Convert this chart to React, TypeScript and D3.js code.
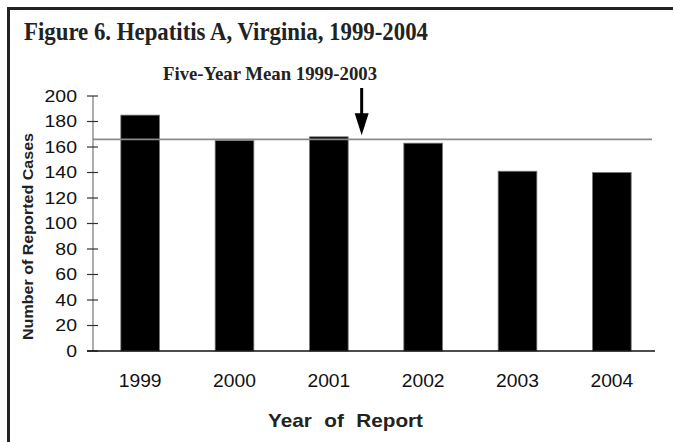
import * as d3 from 'd3'

const years = ['1999', '2000', '2001', '2002', '2003', '2004']
const cases = [185, 165, 168, 163, 141, 140]
const fiveYearMean = 166
const yTicks = [0, 20, 40, 60, 80, 100, 120, 140, 160, 180, 200]

const W = 673
const H = 442
const sans = '"Liberation Sans", Arial, sans-serif'
const serif = '"Liberation Serif", "Times New Roman", serif'

const App = () => {
  const yScale = d3.scaleLinear().domain([0, 200]).range([351, 96])

  const xScale = d3
    .scaleBand<string>()
    .domain(years)
    .range([93, 659])
    .paddingInner(0.59)
    .paddingOuter(0.295)

  const axisX = 93
  const baseY = yScale(0)
  const meanY = yScale(fiveYearMean)

  // arrow sits in the gap between 2001 and 2002
  const arrowX = (xScale('2001') as number) + xScale.bandwidth() + 13.5
  const arrowTip = meanY - 4

  return (
    <svg
      width={W}
      height={H}
      style={{ position: 'absolute', left: 0, top: 0, background: '#fff' }}
    >
      {/* frame */}
      <line x1={7} x2={W} y1={8.5} y2={8.5} stroke="#222" strokeWidth={3} />
      <line x1={8.5} x2={8.5} y1={7} y2={H} stroke="#222" strokeWidth={3} />

      <text
        x={24}
        y={40}
        fontFamily={serif}
        fontWeight="bold"
        fontSize={26}
        fill="#222"
        textLength={404}
        lengthAdjust="spacingAndGlyphs"
      >
        Figure 6. Hepatitis A, Virginia, 1999-2004
      </text>
      <text
        x={163}
        y={80}
        fontFamily={serif}
        fontWeight="bold"
        fontSize={19}
        fill="#222"
        textLength={214}
        lengthAdjust="spacingAndGlyphs"
      >
        Five-Year Mean 1999-2003
      </text>

      {/* bars */}
      {years.map((yr, i) => (
        <rect
          key={yr}
          x={xScale(yr)}
          y={yScale(cases[i])}
          width={xScale.bandwidth()}
          height={baseY - yScale(cases[i])}
          fill="#000"
          stroke="#777"
          strokeWidth={0.8}
        />
      ))}

      {/* mean line */}
      <line
        x1={axisX}
        x2={652}
        y1={meanY}
        y2={meanY}
        stroke="#8a8a8a"
        strokeWidth={1.6}
      />

      {/* arrow */}
      <line
        x1={arrowX}
        x2={arrowX}
        y1={88}
        y2={arrowTip - 18}
        stroke="#000"
        strokeWidth={3}
      />
      <path
        d={`M${arrowX - 7},${arrowTip - 22} L${arrowX + 7},${arrowTip - 22} L${arrowX},${arrowTip} Z`}
        fill="#000"
      />

      {/* y axis */}
      <line
        x1={axisX}
        x2={axisX}
        y1={yScale(200)}
        y2={baseY}
        stroke="#777"
        strokeWidth={1.2}
      />
      {yTicks.map(t => (
        <g key={t} transform={`translate(0, ${yScale(t)})`}>
          <line x1={87} x2={98} stroke="#333" strokeWidth={1.2} />
          <g transform="translate(77, 0)">
            <text
              transform="scale(1.18, 1)"
              textAnchor="end"
              dy="0.36em"
              fontFamily={sans}
              fontSize={16.5}
              fill="#111"
            >
              {t}
            </text>
          </g>
        </g>
      ))}

      {/* x axis */}
      <line x1={87} x2={655} y1={baseY} y2={baseY} stroke="#111" strokeWidth={1.4} />
      {years.map(yr => (
        <g
          key={yr}
          transform={`translate(${(xScale(yr) as number) + xScale.bandwidth() / 2}, 387)`}
        >
          <text
            transform="scale(1.07, 1)"
            textAnchor="middle"
            fontFamily={sans}
            fontSize={18}
            fill="#111"
          >
            {yr}
          </text>
        </g>
      ))}

      <text
        x={268}
        y={427}
        fontFamily={sans}
        fontWeight="bold"
        fontSize={18.5}
        fill="#222"
        wordSpacing={6}
        textLength={155}
        lengthAdjust="spacingAndGlyphs"
      >
        Year of Report
      </text>

      <text
        transform="translate(33, 236.5) rotate(-90)"
        textAnchor="middle"
        fontFamily={sans}
        fontWeight="bold"
        fontSize={14.5}
        fill="#222"
        textLength={207}
        lengthAdjust="spacingAndGlyphs"
      >
        Number of Reported Cases
      </text>
    </svg>
  )
}

export default App
